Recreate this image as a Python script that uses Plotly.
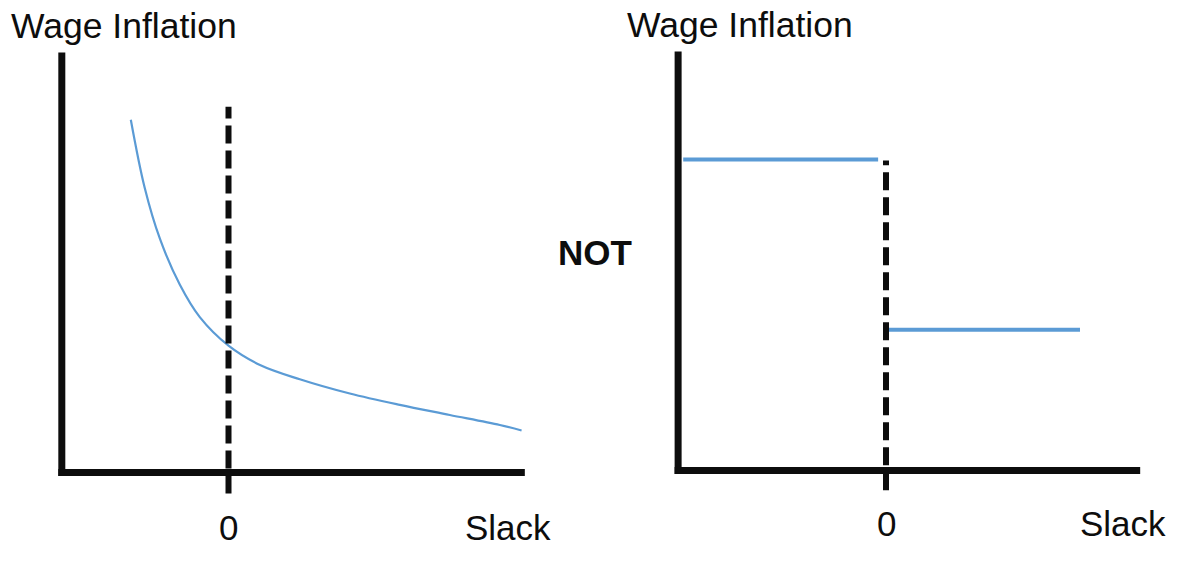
import plotly.graph_objects as go

W, H = 1200, 562

# ---- data (diagram units: Slack on x, Wage Inflation on y) ----
left_slack = [-2.11, -1.81, -1.48, -1.05, -0.62, 0.0, 0.68, 1.54, 2.62, 3.70, 4.78, 5.86, 6.33]
left_wage = [8.40, 6.78, 5.56, 4.47, 3.70, 3.02, 2.56, 2.22, 1.88, 1.61, 1.37, 1.13, 1.00]

right_high_slack = [-4.38, -0.17]
right_high_wage = [7.42, 7.42]
right_low_slack = [0.06, 4.19]
right_low_wage = [3.36, 3.36]

left_xaxis_ext = [-3.60, 6.40]
right_xaxis_ext = [-4.49, 5.49]
yaxis_top = 10.0
left_dash_ext = [-0.50, 8.71]
right_dash_ext = [-0.47, 7.40]

title_text = "Wage Inflation"
xlab_text = "Slack"
zero_text = "0"
not_text = "NOT"

BLUE = "#5B9BD5"
INK = "#0d0d0d"
FONT = "Liberation Sans, Arial, sans-serif"

# panel placement (pixels)
panels = {
    "left": dict(x0=228.5, y0=472.5, ux=46.3, uy=42.0, xr=[-3.75, 6.55], yr=[-0.75, 10.25]),
    "right": dict(x0=886.0, y0=470.5, ux=46.3, uy=41.9, xr=[-4.65, 5.65], yr=[-0.75, 10.25]),
}


def dom(p):
    xd = [(p["x0"] + p["xr"][0] * p["ux"]) / W, (p["x0"] + p["xr"][1] * p["ux"]) / W]
    yd = [1 - (p["y0"] - p["yr"][0] * p["uy"]) / H, 1 - (p["y0"] - p["yr"][1] * p["uy"]) / H]
    return xd, yd


fig = go.Figure()

fig.add_trace(go.Scatter(x=left_slack, y=left_wage, mode="lines",
                         line=dict(color=BLUE, width=2.2, shape="spline", smoothing=1.0),
                         xaxis="x", yaxis="y", hoverinfo="skip"))
fig.add_trace(go.Scatter(x=right_high_slack, y=right_high_wage, mode="lines",
                         line=dict(color=BLUE, width=4),
                         xaxis="x2", yaxis="y2", hoverinfo="skip"))
fig.add_trace(go.Scatter(x=right_low_slack, y=right_low_wage, mode="lines",
                         line=dict(color=BLUE, width=4),
                         xaxis="x2", yaxis="y2", hoverinfo="skip"))

shapes = []
for xr_name, yr_name, ext, dext, p in [("x", "y", left_xaxis_ext, left_dash_ext, panels["left"]),
                                        ("x2", "y2", right_xaxis_ext, right_dash_ext, panels["right"])]:
    lw = 7
    hx = (lw / 2) / p["ux"]
    hy = (lw / 2) / p["uy"]
    # y axis
    shapes.append(dict(type="line", xref=xr_name, yref=yr_name, x0=ext[0], x1=ext[0],
                       y0=-hy, y1=yaxis_top, line=dict(color=INK, width=lw)))
    # x axis
    shapes.append(dict(type="line", xref=xr_name, yref=yr_name, x0=ext[0] - hx, x1=ext[1],
                       y0=0, y1=0, line=dict(color=INK, width=lw)))
    # dashed zero line
    shapes.append(dict(type="line", xref=xr_name, yref=yr_name, x0=0, x1=0,
                       y0=dext[0], y1=dext[1], line=dict(color=INK, width=6, dash="18px,7px")))

lx, ly = dom(panels["left"])
rx, ry = dom(panels["right"])


def ann(text, xpx, ypx, size=35, bold=False, xanchor="left"):
    return dict(text=f"<b>{text}</b>" if bold else text, x=xpx / W, y=1 - ypx / H,
                xref="paper", yref="paper", xanchor=xanchor, yanchor="middle",
                showarrow=False, font=dict(family=FONT, size=size, color=INK))


annotations = [
    ann(title_text, 9, 26, size=35.5),
    ann(title_text, 625, 25, size=35.5),
    ann(not_text, 594.5, 253, bold=True, xanchor="center"),
    ann(zero_text, 228.5, 527, xanchor="center"),
    ann(xlab_text, 463, 527),
    ann(zero_text, 886, 523, xanchor="center"),
    ann(xlab_text, 1078, 523),
]

axis_common = dict(visible=False, showgrid=False, zeroline=False, fixedrange=True)
fig.update_layout(
    width=W, height=H, margin=dict(l=0, r=0, t=0, b=0),
    paper_bgcolor="white", plot_bgcolor="white", showlegend=False,
    xaxis=dict(domain=lx, range=panels["left"]["xr"], anchor="y", **axis_common),
    yaxis=dict(domain=ly, range=panels["left"]["yr"], anchor="x", **axis_common),
    xaxis2=dict(domain=rx, range=panels["right"]["xr"], anchor="y2", **axis_common),
    yaxis2=dict(domain=ry, range=panels["right"]["yr"], anchor="x2", **axis_common),
    shapes=shapes, annotations=annotations,
)

fig.write_html("out.html", config={"displayModeBar": False},
               post_script="document.body.style.margin='0';document.body.style.overflow='hidden';")
